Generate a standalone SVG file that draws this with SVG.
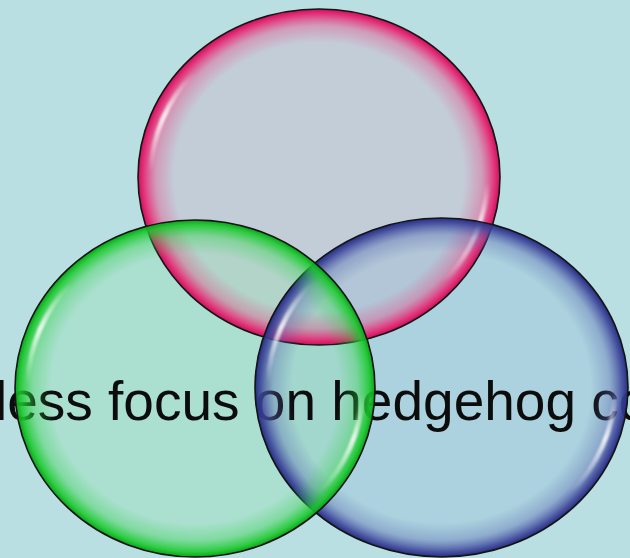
<svg xmlns="http://www.w3.org/2000/svg" width="630" height="558" viewBox="0 0 630 558">
  <style>
    .fill { stroke: none; }
    .rim { stroke: #141414; stroke-width: 1.6; }
    .hl { fill: none; stroke-width: 5; stroke-linecap: round; filter: url(#soft); }
    .label { font-family: "Liberation Sans", Arial, sans-serif; font-size: 55px; fill: #0c0c0c; }
  </style>
  <defs>
    <filter id="soft" x="-20%" y="-20%" width="140%" height="140%">
      <feGaussianBlur stdDeviation="1.3"/>
    </filter>
    <radialGradient id="rPink" cx="50%" cy="50%" r="50%">
      <stop offset="0" stop-color="#e8407f" stop-opacity="0"/>
      <stop offset="0.8" stop-color="#e8407f" stop-opacity="0"/>
      <stop offset="0.9" stop-color="#e8407f" stop-opacity="0.35"/>
      <stop offset="0.97" stop-color="#e81e6e" stop-opacity="0.88"/>
      <stop offset="1" stop-color="#c8105a" stop-opacity="1"/>
    </radialGradient>
    <radialGradient id="rGreen" cx="50%" cy="50%" r="50%">
      <stop offset="0" stop-color="#30d048" stop-opacity="0"/>
      <stop offset="0.8" stop-color="#30d048" stop-opacity="0"/>
      <stop offset="0.9" stop-color="#30d048" stop-opacity="0.35"/>
      <stop offset="0.97" stop-color="#18c82a" stop-opacity="0.88"/>
      <stop offset="1" stop-color="#0aa01a" stop-opacity="1"/>
    </radialGradient>
    <radialGradient id="rBlue" cx="50%" cy="50%" r="50%">
      <stop offset="0" stop-color="#5a68b0" stop-opacity="0"/>
      <stop offset="0.8" stop-color="#5a68b0" stop-opacity="0"/>
      <stop offset="0.9" stop-color="#5a68b0" stop-opacity="0.35"/>
      <stop offset="0.97" stop-color="#3a4298" stop-opacity="0.88"/>
      <stop offset="1" stop-color="#262e80" stop-opacity="1"/>
    </radialGradient>
    <linearGradient id="hlFade" x1="0" y1="0" x2="0" y2="1">
      <stop offset="0" stop-color="#ffffff" stop-opacity="0"/>
      <stop offset="0.45" stop-color="#ffffff" stop-opacity="0.85"/>
      <stop offset="1" stop-color="#ffffff" stop-opacity="0"/>
    </linearGradient>
  </defs>

  <rect x="0" y="0" width="630" height="558" fill="#b9dfe2"/>

  <g id="pink-body">
    <ellipse class="fill" cx="319" cy="177" rx="181" ry="168" fill="#d7acc5" fill-opacity="0.35"/>
  </g>
  <g id="blue-body">
    <ellipse class="fill" cx="441.5" cy="387.5" rx="186.5" ry="169.5" fill="#92bad7" fill-opacity="0.35"/>
  </g>
  <g id="green-body">
    <ellipse class="fill" cx="195" cy="388.5" rx="180" ry="168.5" fill="#92e2af" fill-opacity="0.35"/>
  </g>

  <g id="label">
    <text class="label" x="-5" y="420">less focus on hedgehog co</text>
  </g>

  <g id="pink">
    <ellipse class="rim" cx="319" cy="177" rx="181" ry="168" fill="url(#rPink)"/>
    <path class="hl" stroke="url(#hlFade)" d="M 193.9 72.5 A 168.3 156.2 0 0 0 150.8 171.5"/>
    <path class="hl" stroke="url(#hlFade)" d="M 487.2 182.5 A 168.3 156.2 0 0 1 444.1 281.5"/>
  </g>

  <g id="blue">
    <ellipse class="rim" cx="441.5" cy="387.5" rx="186.5" ry="169.5" fill="url(#rBlue)"/>
    <path class="hl" stroke="url(#hlFade)" d="M 312.6 282 A 173.4 157.6 0 0 0 268.2 382"/>
    <path class="hl" stroke="url(#hlFade)" d="M 614.8 393 A 173.4 157.6 0 0 1 570.4 493"/>
  </g>

  <g id="green">
    <ellipse class="rim" cx="195" cy="388.5" rx="180" ry="168.5" fill="url(#rGreen)"/>
    <path class="hl" stroke="url(#hlFade)" d="M 70.6 283.6 A 167.4 156.7 0 0 0 27.7 383"/>
    <path class="hl" stroke="url(#hlFade)" d="M 362.3 394 A 167.4 156.7 0 0 1 319.4 493.4"/>
  </g>
</svg>
